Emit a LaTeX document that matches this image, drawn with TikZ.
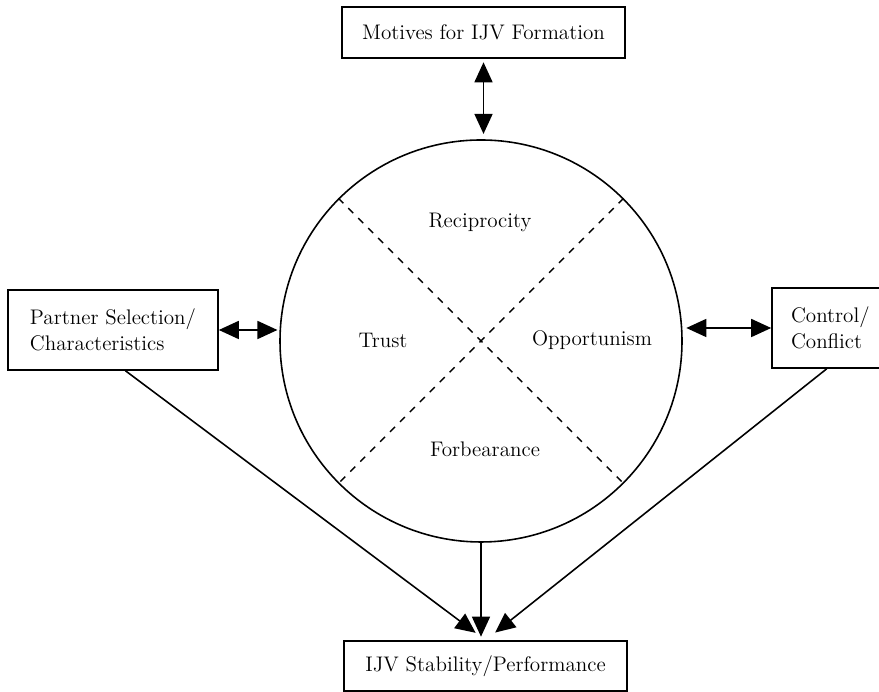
\documentclass[tikz,border=0pt]{standalone}
\usetikzlibrary{arrows.meta}
\begin{document}
\begin{tikzpicture}[font=\fontsize{12}{14.5}\selectfont,
    box/.style={draw,line width=0.9pt,align=left,inner sep=0pt},
    link/.style={line width=0.9pt,-{Triangle[length=4mm,width=3.6mm]}},
    both/.style={line width=0.9pt,{Triangle[length=4mm,width=3.6mm]}-{Triangle[length=4mm,width=3.6mm]}}]
    \useasboundingbox (0,0) rectangle (17.58,13.84);
    \node[box,minimum width=5.66cm,minimum height=1.02cm] (motives) at (9.67,13.19) {Motives for IJV Formation};
    \node[box,minimum width=4.2cm,minimum height=1.6cm] (partner) at (2.26,7.24) {Partner Selection/\\Characteristics};
    \node[box,minimum width=2.36cm,minimum height=1.6cm,text width=1.6cm] (control) at (16.62,7.28) {Control/\\Conflict};
    \node[box,minimum width=5.66cm,minimum height=1cm] (stability) at (9.71,0.52) {IJV Stability/Performance};
    \node[circle,draw,line width=0.9pt,minimum size=8.04cm,inner sep=0pt] (trust) at (9.62,7.02) {};
    \draw[dashed,dash pattern=on 4pt off 4pt,line width=0.8pt] (trust.135) -- (trust.-45);
    \draw[dashed,dash pattern=on 4pt off 4pt,line width=0.8pt] (trust.45) -- (trust.-135);
    \node (recip) at (9.6,9.40) {Reciprocity};
    \node (trustlbl) at (7.66,7.04) {Trust};
    \node (opport) at (11.84,7.04) {Opportunism};
    \node (forbear) at (9.7,4.86) {Forbearance};
    \draw[both,shorten <=2pt,shorten >=3pt] (motives.south) -- (motives.south |- trust.north);
    \draw[both,shorten >=1pt] (partner.east) -- (partner.east -| trust.west);
    \draw[both,shorten <=2pt] (control.west -| trust.east) -- (control.west);
    \draw[link,shorten >=7pt] (partner.-73) -- (stability.north);
    \draw[link,shorten >=2pt] (trust.south) -- (trust.south |- stability.north);
    \draw[link,shorten >=7pt] (control.-96) -- (stability.north);
\end{tikzpicture}
\end{document}
